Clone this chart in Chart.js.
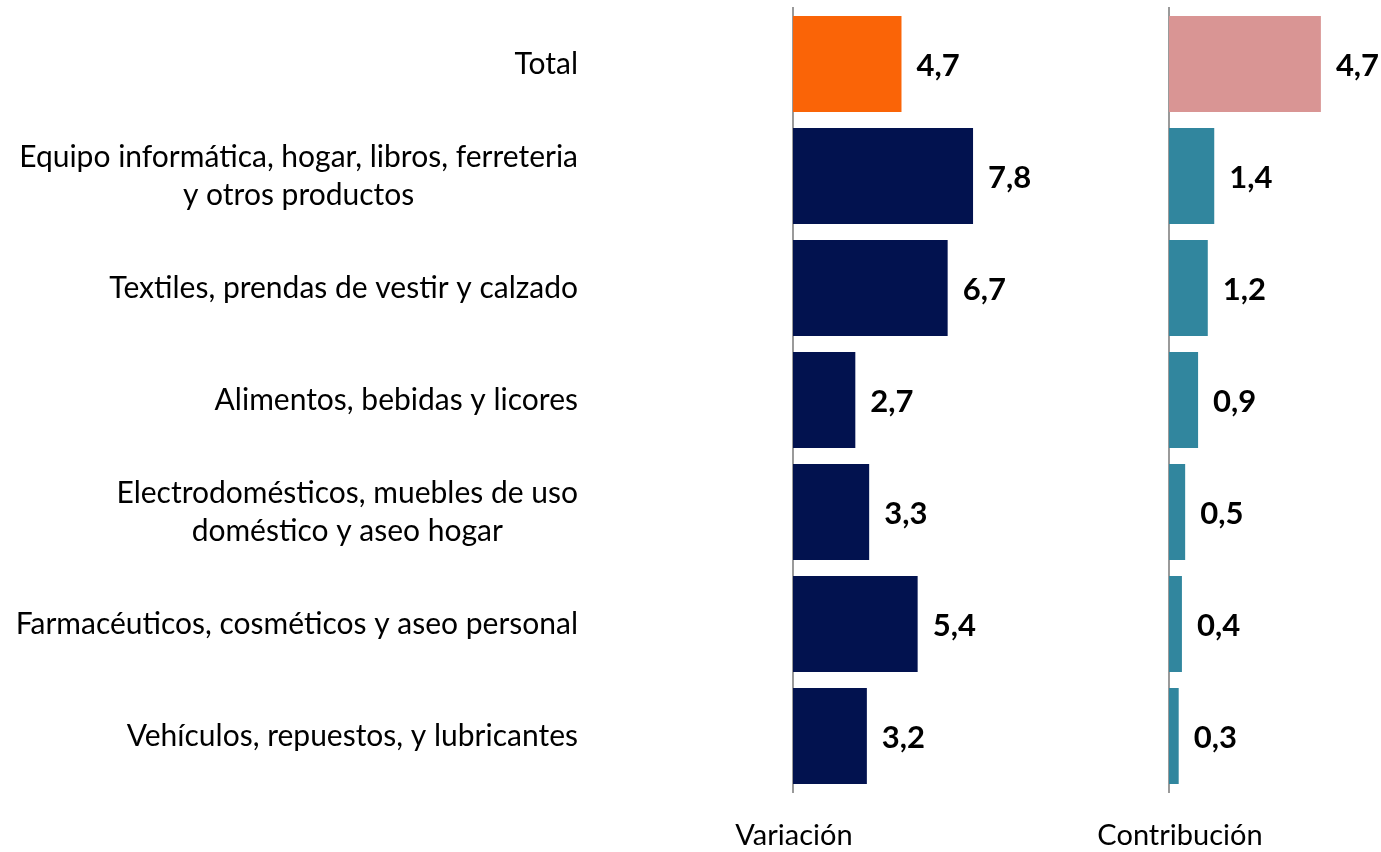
<!DOCTYPE html>
<html>
<head>
<meta charset="utf-8">
<script src="https://cdn.jsdelivr.net/npm/chart.js@4"></script>
<style>
  body { margin: 0; background: #fff; width: 1381px; height: 852px; position: relative; overflow: hidden; font-family: Lato, sans-serif; }
  canvas { position: absolute; top: 0; }
  #c1 { left: 0; }
  #c2 { left: 1100px; }
  .ttl { position: absolute; top: 816px; font-size: 29px; color: #000; transform: translateX(-50%); white-space: nowrap; }
</style>
</head>
<body>
<canvas id="c1" width="1100" height="852"></canvas>
<canvas id="c2" width="281" height="852"></canvas>
<div class="ttl" style="left:794px">Variación</div>
<div class="ttl" style="left:1180px">Contribución</div>
<script>
var categories = [
    'Total',
    ['Equipo informática, hogar, libros, ferreteria', 'y otros productos'],
    'Textiles, prendas de vestir y calzado',
    'Alimentos, bebidas y licores',
    ['Electrodomésticos, muebles de uso', 'doméstico y aseo hogar'],
    'Farmacéuticos, cosméticos y aseo personal',
    'Vehículos, repuestos, y lubricantes'
];
var variacion = [4.7, 7.8, 6.7, 2.7, 3.3, 5.4, 3.2];
var contribucion = [4.7, 1.4, 1.2, 0.9, 0.5, 0.4, 0.3];

var valueLabels = {
    id: 'valueLabels',
    afterDatasetsDraw: function (chart) {
        var ctx = chart.ctx;
        var meta = chart.getDatasetMeta(0);
        var data = chart.data.datasets[0].data;
        ctx.save();
        ctx.font = 'bold 31px Lato, sans-serif';
        ctx.fillStyle = '#000';
        ctx.textAlign = 'left';
        ctx.textBaseline = 'middle';
        meta.data.forEach(function (bar, i) {
            ctx.fillText(data[i].toFixed(1).replace('.', ','), bar.x + 15, bar.y + 2);
        });
        ctx.restore();
    }
};

// category labels: block right-aligned, lines centred inside the block
var categoryLabels = {
    id: 'categoryLabels',
    afterDraw: function (chart, args, opts) {
        if (!opts.show) return;
        var ctx = chart.ctx;
        var y = chart.scales.y;
        var lh = 38;
        ctx.save();
        ctx.font = '30px Lato, sans-serif';
        ctx.fillStyle = '#000';
        ctx.textAlign = 'center';
        ctx.textBaseline = 'middle';
        chart.data.labels.forEach(function (lab, i) {
            var lines = [].concat(lab);
            var widest = Math.max.apply(null, lines.map(function (l) { return ctx.measureText(l).width; }));
            var cx = opts.right - widest / 2;
            var cy = y.getPixelForTick(i) - (lines.length - 1) * lh / 2;
            lines.forEach(function (l, k) {
                ctx.fillText(l, cx, cy + k * lh);
            });
        });
        ctx.restore();
    }
};

function makeChart(id, values, colors, xMax, axisWidth, showLabels) {
    return new Chart(document.getElementById(id), {
        type: 'bar',
        data: {
            labels: categories,
            datasets: [{
                data: values,
                backgroundColor: colors,
                categoryPercentage: 1,
                barPercentage: 0.857
            }]
        },
        options: {
            indexAxis: 'y',
            responsive: false,
            animation: false,
            layout: { padding: { top: 8, bottom: 60, left: 0, right: 0 } },
            plugins: {
                legend: { display: false },
                tooltip: { enabled: false },
                categoryLabels: { show: showLabels, right: 578 }
            },
            scales: {
                x: { display: false, min: 0, max: xMax },
                y: {
                    grid: { display: false, drawTicks: false },
                    border: { display: true, color: '#9a9a9a', width: 2 },
                    ticks: { display: false },
                    afterFit: function (scale) {
                        scale.width = axisWidth;
                        scale.paddingTop = 0;
                        scale.paddingBottom = 0;
                    }
                }
            }
        },
        plugins: [valueLabels, categoryLabels]
    });
}

var navy = '#02124f', teal = '#31869e';
makeChart('c1', variacion, ['#fa6407', navy, navy, navy, navy, navy, navy], 13.3, 793, true);
makeChart('c2', contribucion, ['#d99594', teal, teal, teal, teal, teal, teal], 6.56, 69, false);
</script>
</body>
</html>
